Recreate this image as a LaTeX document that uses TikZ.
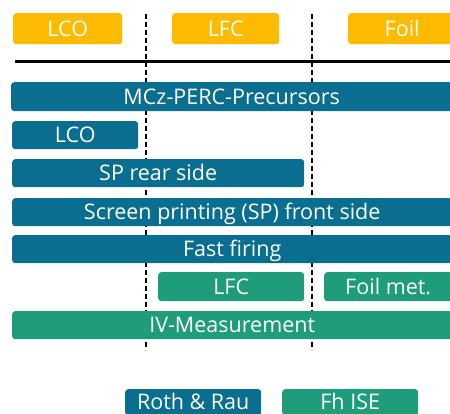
\documentclass[tikz,border=0pt]{standalone}
\usepackage{fontspec}
\setmainfont{Open Sans}
\definecolor{fhyellow}{HTML}{FDBB00}
\definecolor{rrblue}{HTML}{0A6E91}
\definecolor{iseteal}{HTML}{1F9D7B}
\tikzset{
	bar/.style={rounded corners=3pt, text=white, inner sep=0pt, anchor=north west,
		minimum height=29pt, font=\fontsize{21.5}{24}\selectfont,
		text height=15.5pt, text depth=0pt},
	yellowbar/.style={bar, fill=fhyellow, minimum height=31pt},
	bluebar/.style={bar, fill=rrblue},
	greenbar/.style={bar, fill=iseteal},
	sepline/.style={dash pattern=on 5pt off 3pt, line width=1.2pt}
}
\begin{document}
\begin{tikzpicture}[x=1pt, y=-1pt]

	\useasboundingbox (0,0) rectangle (450,414);
	\clip (0,0) rectangle (450,414);

	% separators
	\draw[sepline] (146,14) -- (146,350);
	\draw[sepline] (312,14) -- (312,350);
	\draw[line width=3pt] (15,62) -- (452,62);

	% steps
	\node[yellowbar, minimum width=109pt] (lcohead) at (13,13) {LCO};
	\node[yellowbar, minimum width=107pt] (lfchead) at (172,13) {LFC};
	\node[yellowbar, minimum width=108pt] (foilhead) at (348,13) {Foil};

	\node[bluebar, minimum width=441pt] (mcz) at (11,82) {MCz-PERC-Precursors};
	\node[bluebar, minimum width=126pt, minimum height=28pt] (lco) at (12,121) {LCO};
	\node[bluebar, minimum width=292pt, minimum height=28pt] (sprear) at (12,159) {SP rear side};
	\node[bluebar, minimum width=440pt, minimum height=28pt] (spfront) at (12,198) {Screen printing (SP) front side};
	\node[bluebar, minimum width=440pt, minimum height=28pt] (firing) at (12,235) {Fast firing};
	\node[greenbar, minimum width=146pt] (lfc) at (158,272) {LFC};
	\node[greenbar, minimum width=128pt] (foilmet) at (324,272) {Foil met.};
	\node[greenbar, minimum width=440pt, minimum height=28pt] (iv) at (12,311) {IV-Measurement};

	% legend
	\node[bluebar, minimum width=136pt, minimum height=26pt] (rothrau) at (125,389) {Roth \& Rau};
	\node[greenbar, minimum width=136pt, minimum height=26pt] (fhise) at (282,389) {Fh ISE};

\end{tikzpicture}
\end{document}
